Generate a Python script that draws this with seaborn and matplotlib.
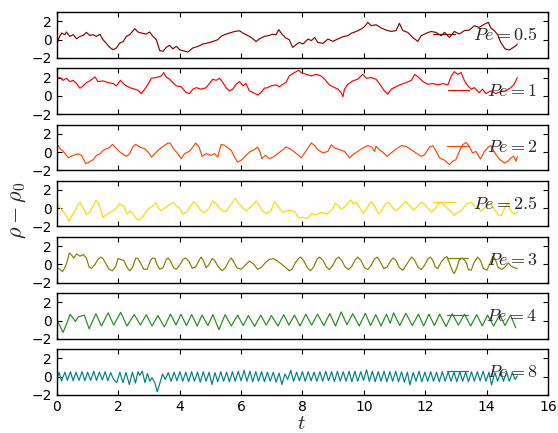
import matplotlib
matplotlib.use("Agg")
import matplotlib.pyplot as plt
import seaborn as sns
import pandas as pd

# ---------------- data ----------------
pe_labels = ["0.5", "1", "2", "2.5", "3", "4", "8"]
colors = ["#8B0000", "#FF0000", "#FF4500", "#FFD700", "#808000", "#228B22", "#008080"]
x_ticks = [0, 2, 4, 6, 8, 10, 12, 14, 16]
y_ticks = [-2, 0, 2]

t_pe05 = [0, 0.04, 0.15, 0.26, 0.31, 0.42, 0.53, 0.64, 0.75, 0.86, 0.96, 1.07, 1.18, 1.29, 1.4, 1.5, 1.6, 1.72, 1.83, 1.94,
          2.05, 2.16, 2.26, 2.37, 2.54, 2.64, 2.75, 2.91, 3.02, 3.13, 3.24, 3.35, 3.46, 3.56, 3.67, 3.78, 3.89, 4.0, 4.1, 4.27,
          4.43, 4.6, 4.76, 4.92, 5.08, 5.24, 5.35, 5.46, 5.62, 5.79, 5.95, 6.06, 6.16, 6.33, 6.49, 6.6, 6.76, 6.92, 7.03, 7.14,
          7.23, 7.33, 7.46, 7.57, 7.68, 7.79, 7.9, 8.02, 8.18, 8.29, 8.4, 8.5, 8.67, 8.83, 8.99, 9.15, 9.32, 9.48, 9.59, 9.75,
          9.91, 10.02, 10.13, 10.24, 10.4, 10.57, 10.73, 10.89, 11.05, 11.16, 11.27, 11.43, 11.59, 11.76, 11.87, 12.03, 12.19,
          12.35, 12.52, 12.63, 12.79, 12.95, 13.11, 13.28, 13.44, 13.6, 13.76, 13.93, 14.06, 14.14, 14.25, 14.36, 14.46, 14.6,
          14.74, 14.85, 14.96, 15.0]
v_pe05 = [-0.55, 0, 0.73, 0.55, 0.84, 0.36, 0.55, 0.1, 0.36, 0.47, 0.8, 0.47, 0.55, 0.36, 0.6, 0, -0.36, -0.84, -1.1, -0.9,
          -0.36, -0.2, 0.36, 0.55, 1.2, 0.84, 0.73, 0.62, 0.84, 0.36, 0, -1.2, -1.27, -0.84, -0.62, -1.0, -0.73, -1.1, -1.2, -1.35,
          -0.9, -0.73, -0.47, -0.36, -0.2, 0, 0.36, 0.55, 0.73, 0.9, 0.98, 0.73, 0.55, 0.25, -0.2, 0.1, 0.36, 0.47, 0.6, 0.55,
          1.1, 0.62, 0.18, 0, -0.84, -0.55, -0.3, -0.47, 0.07, -0.1, 0.25, -0.3, -0.4, 0.07, -0.18, 0.07, 0.33, 0.44, 0.7, 0.9,
          1.16, 1.42, 1.9, 1.53, 1.64, 1.27, 1.05, 0.9, 1.0, 1.8, 1.0, 0.8, 0.25, -0.18, 0.44, 0.7, 0.9,
          0.8, 0.44, 0.8, 0.25, 0.9, 0.62, 1.0, 1.05, 1.53, 1.35, 1.7, 1.9, 1.27, 1.0, 0.55, -0.3, -1.0,
          -1.13, -0.9, -0.65, -0.47]

t_pe1 = [0, 0.1, 0.2, 0.31, 0.42, 0.53, 0.64, 0.75, 0.86, 0.96, 1.07, 1.24, 1.34, 1.5, 1.67, 1.83, 1.94, 2.07, 2.21, 2.37,
         2.54, 2.64, 2.75, 2.86, 2.97, 3.08, 3.24, 3.4, 3.48, 3.56, 3.67, 3.78, 3.89, 4.05, 4.21, 4.32, 4.43, 4.54, 4.7, 4.86,
         4.97, 5.08, 5.19, 5.3, 5.41, 5.51, 5.62, 5.73, 5.84, 5.95, 6.06, 6.16, 6.27, 6.39, 6.54, 6.65, 6.76, 6.87, 6.98, 7.14,
         7.25, 7.36, 7.46, 7.57, 7.74, 7.88, 7.96, 8.12, 8.29, 8.45, 8.61, 8.72, 8.88, 9.05, 9.16, 9.26, 9.32, 9.37, 9.48, 9.64,
         9.8, 9.97, 10.08, 10.24, 10.4, 10.56, 10.67, 10.78, 10.89, 11.05, 11.22, 11.38, 11.55, 11.66, 11.77, 11.93, 12.09,
         12.25, 12.42, 12.58, 12.74, 12.85, 12.95, 13.06, 13.17, 13.28, 13.39, 13.5, 13.6, 13.76, 13.87, 13.98, 14.14, 14.3,
         14.46, 14.63, 14.79, 14.9, 15.0]
v_pe1 = [1.93, 2.0, 1.7, 1.93, 1.56, 1.7, 1.35, 0.84, 1.1, 1.45, 1.64, 2.07, 1.56, 1.64, 1.45, 1.35, 1.1, 1.7, 1.2, 0.9,
         0.73, 0.62, 0.25, 0.73, 1.27, 1.93, 2.0, 2.18, 2.55, 2.07, 1.82, 1.45, 1.1, 1.0, 0.36, 0.25, 0.73, 0.9, 0.73, 0.9,
         1.35, 1.82, 1.7, 1.93, 1.45, 0.9, 0.55, 0.73, 1.27, 1.56, 1.1, 1.35, 0.55, 0.36, 0.1, 0.36, 0.84, 0.9, 1.1, 1.2,
         1.0, 1.27, 1.45, 2.18, 2.55, 2.8, 2.55, 2.36, 2.18, 2.36, 2.18, 1.82, 1.2, 0.9, 0.73, 0.36, -0.1, 0.73, 1.27, 1.64,
         1.82, 2.36, 1.93, 2.0, 1.82, 1.1, 0.55, 0.18, 0.73, 1.0, 1.27, 1.45, 1.7, 2.36, 2.07, 1.56, 1.27,
         1.35, 1.2, 1.35, 1.2, 2.18, 2.65, 2.36, 2.55, 1.64, 1.1, 0.73, 0.9, 0.36, 0.73, 0.25, 0.55, 0.25,
         0.47, 0.55, 0.9, 1.27, 2.0]

t_pe2 = [0, 0.1, 0.2, 0.37, 0.53, 0.69, 0.8, 0.94, 1.05, 1.18, 1.29, 1.4, 1.48, 1.6, 1.7, 1.81, 1.94, 2.05, 2.16, 2.26,
         2.37, 2.48, 2.57, 2.7, 2.86, 2.97, 3.08, 3.19, 3.29, 3.46, 3.62, 3.69, 3.8, 3.94, 4.05, 4.16, 4.32, 4.43, 4.52, 4.63,
         4.73, 4.86, 5.03, 5.14, 5.24, 5.35, 5.46, 5.57, 5.68, 5.79, 5.89, 6.03, 6.16, 6.27, 6.43, 6.54, 6.62, 6.68, 6.79, 6.92,
         7.05, 7.19, 7.36, 7.46, 7.6, 7.74, 7.88, 7.96, 8.07, 8.18, 8.29, 8.4, 8.5, 8.67, 8.83, 8.94, 9.05, 9.21, 9.37, 9.54,
         9.64, 9.8, 9.97, 10.13, 10.26, 10.35, 10.4, 10.51, 10.62, 10.76, 10.89, 11.05, 11.22, 11.38, 11.55, 11.7, 11.87,
         11.98, 12.14, 12.25, 12.36, 12.47, 12.63, 12.79, 12.9, 13.0, 13.11, 13.22, 13.33, 13.44, 13.54, 13.65, 13.8, 13.93,
         14.06, 14.14, 14.27, 14.41, 14.58, 14.7, 14.79, 14.88, 14.96, 15.0]
v_pe2 = [0.9, 0.36, 0.1, -0.62, -0.36, -0.2, -0.36, -1.27, -1.1, -0.84, -0.36, -0.2, 0.1, 0.36, 0.47, 0.84, 0.36, 0, -0.25, -0.47,
         -0.18, 0.62, 0.84, 0.55, 0.36, 0, -0.55, -0.18, 0.18, 0.62, 0.98, 0.98, 0.36, -0.18, -0.73, -0.18, 0.1, 0.55, 0.98, 0.55,
         -0.47, -0.18, -0.36, -0.18, -0.55, 0.84, 0.73, 0.47, 0.18, -0.55, -1.1, -0.84, -0.36, 0, 0.25, 0.55, 0, -0.73, -0.36, -0.73,
         -0.55, -0.18, 0.25, 0.55, 0.36, 0, -0.36, -0.65, -0.1, 0.44, 1.0, 0.7, 0.25, -0.1, 0.07, 0.8, 0.44, 0.25, 0.07, -0.65,
         -0.3, 0.07, 0.44, 0.7, 0.55, 0.07, 0.62, 0.25, -0.03, -0.47, -0.1, 0.33, 0.7, 0.62, 0.25, -0.1, -0.47,
         -0.3, 0.55, 0.7, 0.07, -0.65, -0.9, -1.38, -1.0, -0.84, 0.07, 0.8, 1.05, 0.62, -0.1, 0.07, -0.76, 0.07,
         0.55, 0.7, -0.1, -0.76, -1.2, -1.0, -0.65, -0.47, -1.0, -0.5]

t_pe25 = [0, 0.1, 0.2, 0.31, 0.39, 0.48, 0.59, 0.7, 0.75, 0.86, 0.96, 1.07, 1.18, 1.27, 1.34, 1.42, 1.5, 1.61, 1.72, 1.83,
          1.94, 2.03, 2.1, 2.18, 2.29, 2.37, 2.48, 2.57, 2.68, 2.78, 2.89, 3.0, 3.13, 3.22, 3.29, 3.4, 3.56, 3.69, 3.8, 3.89,
          4.0, 4.1, 4.24, 4.34, 4.45, 4.59, 4.7, 4.81, 4.95, 5.08, 5.19, 5.3, 5.41, 5.51, 5.62, 5.75, 5.82, 5.89, 6.0, 6.16,
          6.27, 6.4, 6.49, 6.6, 6.71, 6.84, 6.98, 7.09, 7.16, 7.25, 7.36, 7.46, 7.63, 7.77, 7.88, 8.02, 8.18, 8.29, 8.45, 8.61,
          8.78, 8.88, 8.99, 9.07, 9.16, 9.26, 9.37, 9.5, 9.59, 9.67, 9.75, 9.86, 9.97, 10.08, 10.18, 10.26, 10.37, 10.48,
          10.59, 10.7, 10.8, 10.91, 11.02, 11.16, 11.3, 11.37, 11.48, 11.62, 11.73, 11.86, 11.97, 12.1, 12.2, 12.32, 12.43,
          12.52, 12.63, 12.74, 12.84, 12.95, 13.06, 13.17, 13.28, 13.39, 13.5, 13.6, 13.71, 13.82, 13.93, 14.04, 14.13, 14.24,
          14.38, 14.48, 14.59, 14.68, 14.79, 14.9, 15.0]
v_pe25 = [0.62, 0.07, -0.36, -0.84, -1.45, -0.84, -0.3, 0.44, 0.65, 0, -0.65, -0.47, 0.25, 0.87, 0.62, -0.1, -1.0, -0.73, -0.47, -0.3,
          0.07, 0.5, 0.36, 0.25, -0.65, -0.3, -0.58, -1.1, -1.3, -1.0, -0.47, 0, 0.25, 0.62, 0.15, -0.3, 0.15, 0.44, 0.62, 0.25,
          0, -0.65, -0.36, 0.15, 0.7, 0.25, -0.3, -0.47, 0, 0.8, 0.5, 0, -0.3, -0.36, 0.15, 0.8, 1.1, 0.62, 0.25, -0.3,
          0, 0.44, 0.8, 0.25, -0.36, -0.58, -0.22, 0.73, 0.44, 0, -0.47, -0.3, -0.22, -0.47, -1.1, -1.0, -1.1, -0.58, -0.73, -0.44,
          -0.65, -0.44, -0.07, 0.55, 0.3, -0.07, 0.1, 0.65, 0.9, 0.47, 0.65, 0.1, -0.55, -0.18, 0.47, 0.73, 0.1, -0.62,
          -0.25, 0.47, 0.65, 0.18, -0.25, 0.03, 0.55, 0.76, 0.3, -0.18, 0.1, 0.65, 0.47, -0.07, -0.44, -0.07, 0.47,
          0.65, 0.3, -0.07, -0.33, -0.8, -0.44, -0.3, 0.18, 0.55, 0.65, 0.3, 0.03, -0.3, 0.03, 0.3, 0.55, -0.07,
          -0.73, -0.84, 0.03, 0.55, -0.3, -0.65, -0.47]

t_pe3 = [0, 0.1, 0.18, 0.26, 0.34, 0.4, 0.48, 0.55, 0.64, 0.75, 0.86, 0.96, 1.05, 1.13, 1.24, 1.34, 1.42, 1.5, 1.61, 1.7,
         1.81, 1.92, 1.99, 2.07, 2.18, 2.29, 2.37, 2.46, 2.57, 2.64, 2.72, 2.83, 2.94, 3.04, 3.11, 3.19, 3.26, 3.35, 3.46, 3.56,
         3.62, 3.69, 3.8, 3.89, 4.0, 4.11, 4.19, 4.3, 4.41, 4.52, 4.63, 4.7, 4.78, 4.86, 4.95, 5.06, 5.14, 5.24, 5.38, 5.49,
         5.6, 5.68, 5.75, 5.86, 6.0, 6.16, 6.27, 6.4, 6.54, 6.65, 6.79, 6.92, 7.05, 7.19, 7.33, 7.46, 7.57, 7.66, 7.77, 7.86,
         7.94, 8.05, 8.16, 8.26, 8.37, 8.48, 8.56, 8.67, 8.78, 8.88, 8.99, 9.1, 9.18, 9.28, 9.39, 9.5, 9.61, 9.72, 9.8, 9.91,
         10.02, 10.13, 10.24, 10.35, 10.44, 10.54, 10.65, 10.76, 10.87, 10.95, 11.05, 11.16, 11.27, 11.38, 11.49, 11.56,
         11.65, 11.76, 11.87, 11.98, 12.09, 12.17, 12.25, 12.33, 12.41, 12.52, 12.63, 12.71, 12.82, 12.9, 12.95, 13.04, 13.11,
         13.22, 13.33, 13.41, 13.5, 13.6, 13.71, 13.8, 13.9, 14.01, 14.13, 14.2, 14.28, 14.37, 14.5, 14.6, 14.71, 14.8, 14.9,
         15.0]
v_pe3 = [-0.36, -0.54, -0.8, -0.36, 0.36, 1.25, 1.0, 0.7, 1.15, 0.9, 1.07, 0.7, -0.3, -0.43, 0, 0.54, 0.8, 0.64, 0, -0.54,
         -0.7, -0.18, 0.64, 0.54, 0.43, -0.36, -0.7, -0.36, 0.7, 0.64, 0.18, -0.54, -0.54, 0.36, 0.7, 0.64, 0, -0.54, -0.36, 0.54,
         0.7, 0.43, -0.36, -0.54, -0.07, 0.54, 0.7, 0.36, -0.43, -0.28, 0.43, 0.8, 0.36, -0.36, -0.07, 0.64, 0.43, -0.18, -0.7, -0.36,
         0.36, 0.7, 0.36, -0.36, -0.54, 0, 0.36, 0.07, -0.54, -0.36, 0.18, 0.54, 0.64, 0.36, 0, -0.36, -0.7, -0.54, 0.18, 0.6,
         0.8, 0.36, -0.36, -0.7, -0.28, 0.6, 0.8, 0.43, -0.28, -0.57, -0.1, 0.6, 0.8, 0.43, -0.28, -0.57, -0.2, 0.5, 0.8, 0.43,
         -0.36, -0.57, -0.1, 0.6, 0.8, 0.25, -0.46, -0.28, 0.36, 0.7, 0.43, -0.36, -0.64, -0.1, 0.5, 0.8,
         0.5, -0.28, -0.57, -0.1, 0.6, 0.8, 0.43, -0.28, -0.46, 0.25, 0.7, 0.85, -0.1, -0.82, -1.0, -0.28, 0.5,
         0.7, 0.25, -0.57, -0.64, 0.25, 0.8, 0.43, -0.46, -0.64, 0.25, 0.9, 0.6, -0.28, -0.57, -0.28, 0.15, -0.2, -0.36,
         -0.46]

t_pe4 = [0.0, 0.1, 0.2, 0.3, 0.43, 0.6, 0.7, 0.89, 1.05, 1.27, 1.45, 1.67, 1.85, 2.08, 2.28, 2.52, 2.72, 2.91, 3.1, 3.29,
         3.5, 3.7, 3.88, 4.04, 4.22, 4.39, 4.57, 4.73, 4.92, 5.08, 5.28, 5.48, 5.68, 5.89, 6.07, 6.24, 6.44, 6.64, 6.82, 6.99,
         7.2, 7.39, 7.56, 7.74, 7.92, 8.11, 8.3, 8.49, 8.7, 8.89, 9.08, 9.26, 9.45, 9.64, 9.85, 10.05, 10.22, 10.39, 10.56,
         10.74, 10.86, 10.97, 11.17, 11.37, 11.58, 11.78, 11.95, 12.12, 12.3, 12.47, 12.68, 12.88, 13.08, 13.28, 13.48,
         13.68, 13.86, 14.03, 14.23, 14.43, 14.6, 14.78, 14.95]
v_pe4 = [0.0, -0.6, -1.3, -0.5, 0.7, -0.1, 0.4, 0.6, -0.9, 0.75, -0.6, 0.85, -0.5, 0.9, -0.6, 0.65, -0.5, 0.65, -0.6, 0.55,
         -0.7, 0.7, -0.5, 0.7, -0.55, 0.65, -0.6, 0.6, -0.55, 0.65, -1.0, 0.65, -0.6, 0.6, -0.55, 0.55, -0.65, 0.6, -0.5, 0.55,
         -0.6, 0.65, -0.5, 0.6, -0.6, 0.7, -0.5, 0.7, -0.55, 0.75, -0.6, 0.95, -0.45, 0.75, -0.6, 0.8, -0.55, 0.65, -0.6,
         0.7, -0.3, 0.85, -0.55, 0.8, -0.55, 0.7, -0.6, 0.7, -0.55, 0.7, -0.65, 0.75, -0.5, 0.7, -0.6,
         0.65, -0.6, 0.6, -0.6, 0.65, -0.55, 0.6, -0.8]

t_pe8 = [0.0, 0.07, 0.15, 0.26, 0.34, 0.44, 0.53, 0.62, 0.72, 0.82, 0.91, 1.0, 1.1, 1.2, 1.29, 1.38, 1.48, 1.57, 1.66, 1.75,
         1.85, 1.95, 2.05, 2.15, 2.25, 2.36, 2.46, 2.56, 2.64, 2.7, 2.78, 2.87, 2.95, 3.03, 3.1, 3.19, 3.27, 3.36, 3.44, 3.53,
         3.63, 3.72, 3.82, 3.91, 4.01, 4.1, 4.2, 4.29, 4.39, 4.48, 4.58, 4.67, 4.77, 4.86, 4.96, 5.05, 5.15, 5.24, 5.34, 5.43,
         5.53, 5.62, 5.72, 5.81, 5.91, 6.0, 6.1, 6.19, 6.29, 6.38, 6.48, 6.57, 6.67, 6.76, 6.86, 6.95, 7.05, 7.14, 7.24, 7.33,
         7.43, 7.52, 7.62, 7.71, 7.81, 7.9, 8.0, 8.09, 8.19, 8.28, 8.38, 8.47, 8.57, 8.66, 8.76, 8.85, 8.95, 9.04, 9.14, 9.23,
         9.33, 9.42, 9.52, 9.61, 9.71, 9.8, 9.9, 9.99, 10.09, 10.18, 10.28, 10.37, 10.47, 10.56, 10.66, 10.75, 10.85, 10.94,
         11.04, 11.13, 11.23, 11.32, 11.42, 11.5, 11.61, 11.7, 11.8, 11.89, 11.99, 12.08, 12.18, 12.27, 12.37, 12.46, 12.56,
         12.65, 12.75, 12.84, 12.94, 13.03, 13.13, 13.22, 13.32, 13.41, 13.51, 13.6, 13.7, 13.79, 13.89, 13.98, 14.08, 14.16,
         14.27, 14.36, 14.46, 14.55, 14.65, 14.74, 14.84, 14.93, 15.0]
v_pe8 = [-0.3, 0.5, -0.45, 0.5, -0.4, 0.55, -0.45, 0.5, -0.4, 0.55, -0.45, 0.5, -0.4, 0.6, -0.4, 0.5, -0.35, 0.55, -0.45, 0.45,
         -0.3, -0.65, 0.5, -0.65, 0.45, -0.85, 0.5, -0.7, 0.55, 0.15, 0.62, -0.65, 0.35, -0.5, -0.1, -0.65, -1.65, -0.65, 0.3, -0.3,
         0.45, -0.5, 0.5, -0.45, 0.55, -0.5, 0.5, -0.55, 0.55, -0.5, 0.5, -0.6, 0.55, -0.5, 0.5, -0.85, 0.45, -0.55, 0.55, -0.5,
         0.5, -0.55, 0.55, -0.5, 0.6, -0.45, 0.7, -0.5, 0.6, -0.55, 0.55, -0.5, 0.55, -0.55, 0.5, -0.5, 0.5, -0.6, 0.4, -0.85,
         0.3, -0.3, 0.7, -0.5, 0.5, -0.45, 0.55, -0.5, 0.55, -0.45, 0.5, -0.5, 0.55, -0.5, 0.6, -0.45, 0.55, -0.55, 0.6, -0.5,
         0.55, -0.5, 0.6, -0.55, 0.6, -0.5, 0.55, -0.4, 0.75, -0.5, 0.6, -0.55, 0.55, -0.5, 0.6, -0.55, 0.55, -0.5,
         0.6, -0.55, 0.55, -0.6, 0.5, -0.9, 0.45, -0.5, 0.6, -0.55, 0.5, -0.5, 0.55, -0.5, 0.5, -0.55, 0.55,
         -0.5, 0.55, -0.5, 0.5, -0.55, 0.55, -0.5, 0.5, -0.55, 0.55, -0.5, 0.55, -0.45, 0.6, -0.5, 0.5, -0.9,
         0.45, -0.5, 0.55, -0.5, 0.55, -0.5, 0.45, -0.3, 0.1]

series = [(t_pe05, v_pe05), (t_pe1, v_pe1), (t_pe2, v_pe2), (t_pe25, v_pe25),
          (t_pe3, v_pe3), (t_pe4, v_pe4), (t_pe8, v_pe8)]

frames = []
for lab, (tt, vv) in zip(pe_labels, series):
    frames.append(pd.DataFrame({"t": tt, "v": vv, "Pe": lab}))
df = pd.concat(frames, ignore_index=True)

# ---------------- style ----------------
sns.set_style("ticks", {"xtick.direction": "in", "ytick.direction": "in",
                        "axes.edgecolor": "black"})
plt.rcParams["font.family"] = ["DejaVu Sans"]
plt.rcParams["mathtext.fontset"] = "cm"
plt.rcParams["xtick.top"] = True
plt.rcParams["ytick.right"] = True

fig, axes = plt.subplots(7, 1, figsize=(5.58, 4.33), dpi=100, sharex=True)
fig.subplots_adjust(left=0.102, right=0.982, top=0.9716, bottom=0.0878, hspace=0.23)

for ax, lab, col in zip(axes, pe_labels, colors):
    sub = df[df["Pe"] == lab]
    sns.lineplot(data=sub, x="t", y="v", ax=ax, color=col, linewidth=0.85,
                 estimator=None, sort=False, label=f"$Pe={lab}$")
    ax.set_xlim(0, 16)
    ax.set_ylim(-2, 3)
    ax.set_yticks(y_ticks)
    ax.set_xticks(x_ticks)
    ax.set_xlabel("")
    ax.set_ylabel("")
    ax.tick_params(axis="both", which="major", length=3.5, width=0.8,
                   labelsize=10, top=True, right=True, direction="in", colors="black")
    for sp in ax.spines.values():
        sp.set_linewidth(1.0)
        sp.set_color("black")
    ax.legend(loc="center right", frameon=False, fontsize=13,
              handlelength=1.2, handletextpad=1.0, borderaxespad=0.2)

fig.text(0.541, 0.0, "$t$", ha="center", va="bottom", fontsize=15)
fig.text(0.032, 0.515, r"$\rho - \rho_0$", ha="center", va="center", rotation=90, fontsize=16)

fig.savefig("out.png", dpi=100)
